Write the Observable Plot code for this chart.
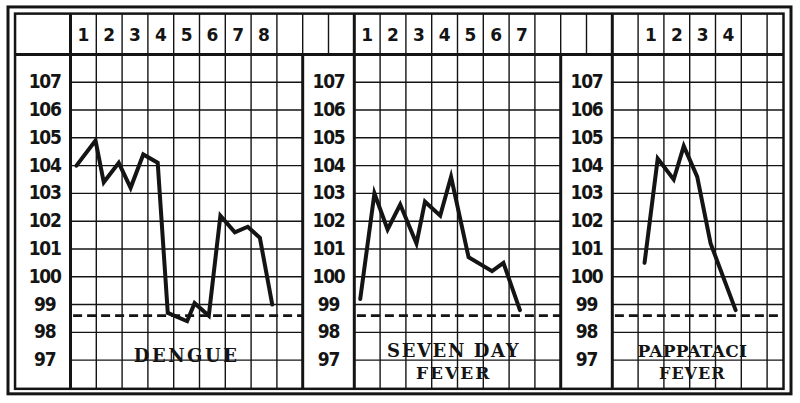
<!DOCTYPE html>
<html><head><meta charset="utf-8">
<script src="https://cdn.jsdelivr.net/npm/d3@7"></script>
<script src="https://cdn.jsdelivr.net/npm/@observablehq/plot@0.6"></script>
<style>
html,body{margin:0;padding:0;background:#fff;}
#chart svg{display:block;background:#fff;}
g[aria-description="temp-labels"] text{letter-spacing:-1.2px;}
</style></head>
<body><div id="chart"></div>
<script>
// ---- data ----
const tempTicks = [97, 98, 99, 100, 101, 102, 103, 104, 105, 106, 107];
const normalTemp = 98.6;

const dengueDayTicks = [1, 2, 3, 4, 5, 6, 7, 8];
const sevenDayTicks = [1, 2, 3, 4, 5, 6, 7];
const pappaDayTicks = [1, 2, 3, 4];

// readings: day position (fractional = time of reading) and temperature °F
const dengueDay  = [0.73, 1.47, 1.79, 2.37, 2.83, 3.32, 3.88, 4.27, 5.02, 5.31, 5.86, 6.31, 6.87, 7.37, 7.84, 8.32];
const dengueTemp = [104.0, 104.9, 103.4, 104.1, 103.2, 104.4, 104.1, 98.7, 98.4, 99.05, 98.6, 102.2, 101.6, 101.8, 101.4, 99.0];

const sevenDay  = [0.73, 1.28, 1.79, 2.28, 2.91, 3.24, 3.83, 4.25, 4.93, 5.84, 6.28, 6.92];
const sevenTemp = [99.2, 103.0, 101.7, 102.6, 101.2, 102.7, 102.2, 103.6, 100.7, 100.2, 100.5, 98.8];

const pappaDay  = [0.75, 1.26, 1.88, 2.27, 2.79, 3.31, 4.28];
const pappaTemp = [100.5, 104.25, 103.5, 104.7, 103.6, 101.2, 98.8];

const panelNames = [["DENGUE"], ["SEVEN DAY", "FEVER"], ["PAPPATACI", "FEVER"]];

// ---- layout (grid columns as x units, temperature as y units) ----
const ink = "#141414";
const panels = [
  {name: panelNames[0], days: dengueDay, temps: dengueTemp, ticks: dengueDayTicks, off: -0.5, x1: 0, x2: 9, lab: -1, nameX: 4.5, ls: [2.5], fs: [18]},
  {name: panelNames[1], days: sevenDay, temps: sevenTemp, ticks: sevenDayTicks, off: 10.5, x1: 11, x2: 19, lab: 10, nameX: 14.85, ls: [1.6, 2], fs: [18, 17]},
  {name: panelNames[2], days: pappaDay, temps: pappaTemp, ticks: pappaDayTicks, off: 21.5, x1: 21, x2: 27.655, lab: 20, nameX: 24.1, ls: [0.2, 1], fs: [17, 16]}
];
const L = -2.13, R = 27.655, B = 95.95, T = 109.45, HB = 108;

const readings = panels.flatMap((p, i) => p.days.map((d, j) => ({panel: i, x: d + p.off, temp: p.temps[j]})));
const dayLabels = panels.flatMap(p => p.ticks.map(d => ({x: d + p.off, label: String(d)})));
const tempLabels = panels.flatMap(p => tempTicks.map(t => ({x: p.lab, t, label: String(t)})));
const nameLabels = panels.flatMap(p => p.name.map((s, k) => ({
  x: p.nameX, t: p.name.length === 1 ? 97.13 : (k === 0 ? 97.32 : 96.52), label: s, ls: p.ls[k], fs: p.fs[k]})));

const chart = Plot.plot({
  width: 800, height: 403,
  marginTop: 0, marginBottom: 0, marginLeft: 0, marginRight: 0,
  x: {domain: [-70 / 25.8, 730 / 25.8], axis: null},
  y: {domain: [95.44, 109.94], axis: null},
  marks: [
    // thin grid
    Plot.ruleX(d3.range(-1, 28), {x: d => d, y1: B, y2: T, stroke: ink, strokeWidth: 1.4}),
    Plot.ruleY(d3.range(97, 108), {y: d => d, x1: L, x2: R, stroke: ink, strokeWidth: 1.4}),
    // white label columns
    Plot.rect([{a: L, b: 0, c: B, d: T}, {a: 9, b: 11, c: B, d: HB}, {a: 19, b: 21, c: B, d: HB}],
      {x1: "a", x2: "b", y1: "c", y2: "d", fill: "white"}),
    // heavy rules
    Plot.ruleX([0, 11, 21], {x: d => d, y1: B, y2: T, stroke: ink, strokeWidth: 3}),
    Plot.ruleX([9, 19], {x: d => d, y1: B, y2: HB, stroke: ink, strokeWidth: 3}),
    Plot.ruleY([HB], {y: d => d, x1: L, x2: R, stroke: ink, strokeWidth: 3}),
    Plot.rect([{}], {x1: L, x2: R, y1: B, y2: T, fill: "none", stroke: ink, strokeWidth: 2.5}),
    Plot.rect([{}], {x1: -2.403, x2: 27.946, y1: 95.77, y2: 109.69, fill: "none", stroke: ink, strokeWidth: 3}),
    // normal temperature
    Plot.ruleY(panels, {y: () => normalTemp, x1: p => p.x1 + 0.12, x2: p => p.x2, stroke: ink, strokeWidth: 2.6, strokeDasharray: "9,5"}),
    // temperature curves
    Plot.line(readings, {x: "x", y: "temp", z: "panel", stroke: ink, strokeWidth: 4, strokeLinejoin: "miter", strokeMiterlimit: 6}),
    // labels
    Plot.text(dayLabels, {x: "x", y: () => 108.68, text: "label", fill: ink, fontSize: 17, fontWeight: "bold",
      fontFamily: "DejaVu Sans, sans-serif"}),
    Plot.text(tempLabels, {x: "x", y: "t", text: "label", fill: ink, fontSize: 19, fontWeight: "bold",
      fontFamily: "Liberation Sans Narrow, DejaVu Sans Condensed, Roboto Condensed, sans-serif", ariaDescription: "temp-labels"}),
    Plot.text(nameLabels, {x: "x", y: "t", text: "label", fill: ink, fontSize: "fs", fontWeight: "bold",
      fontFamily: "DejaVu Serif, serif", ariaDescription: "panel-names"})
  ]
});
d3.select(chart).selectAll('g[aria-description="panel-names"] text')
  .style("letter-spacing", (d, i) => nameLabels[i].ls + "px");
document.getElementById("chart").append(chart);
</script>
</body></html>
